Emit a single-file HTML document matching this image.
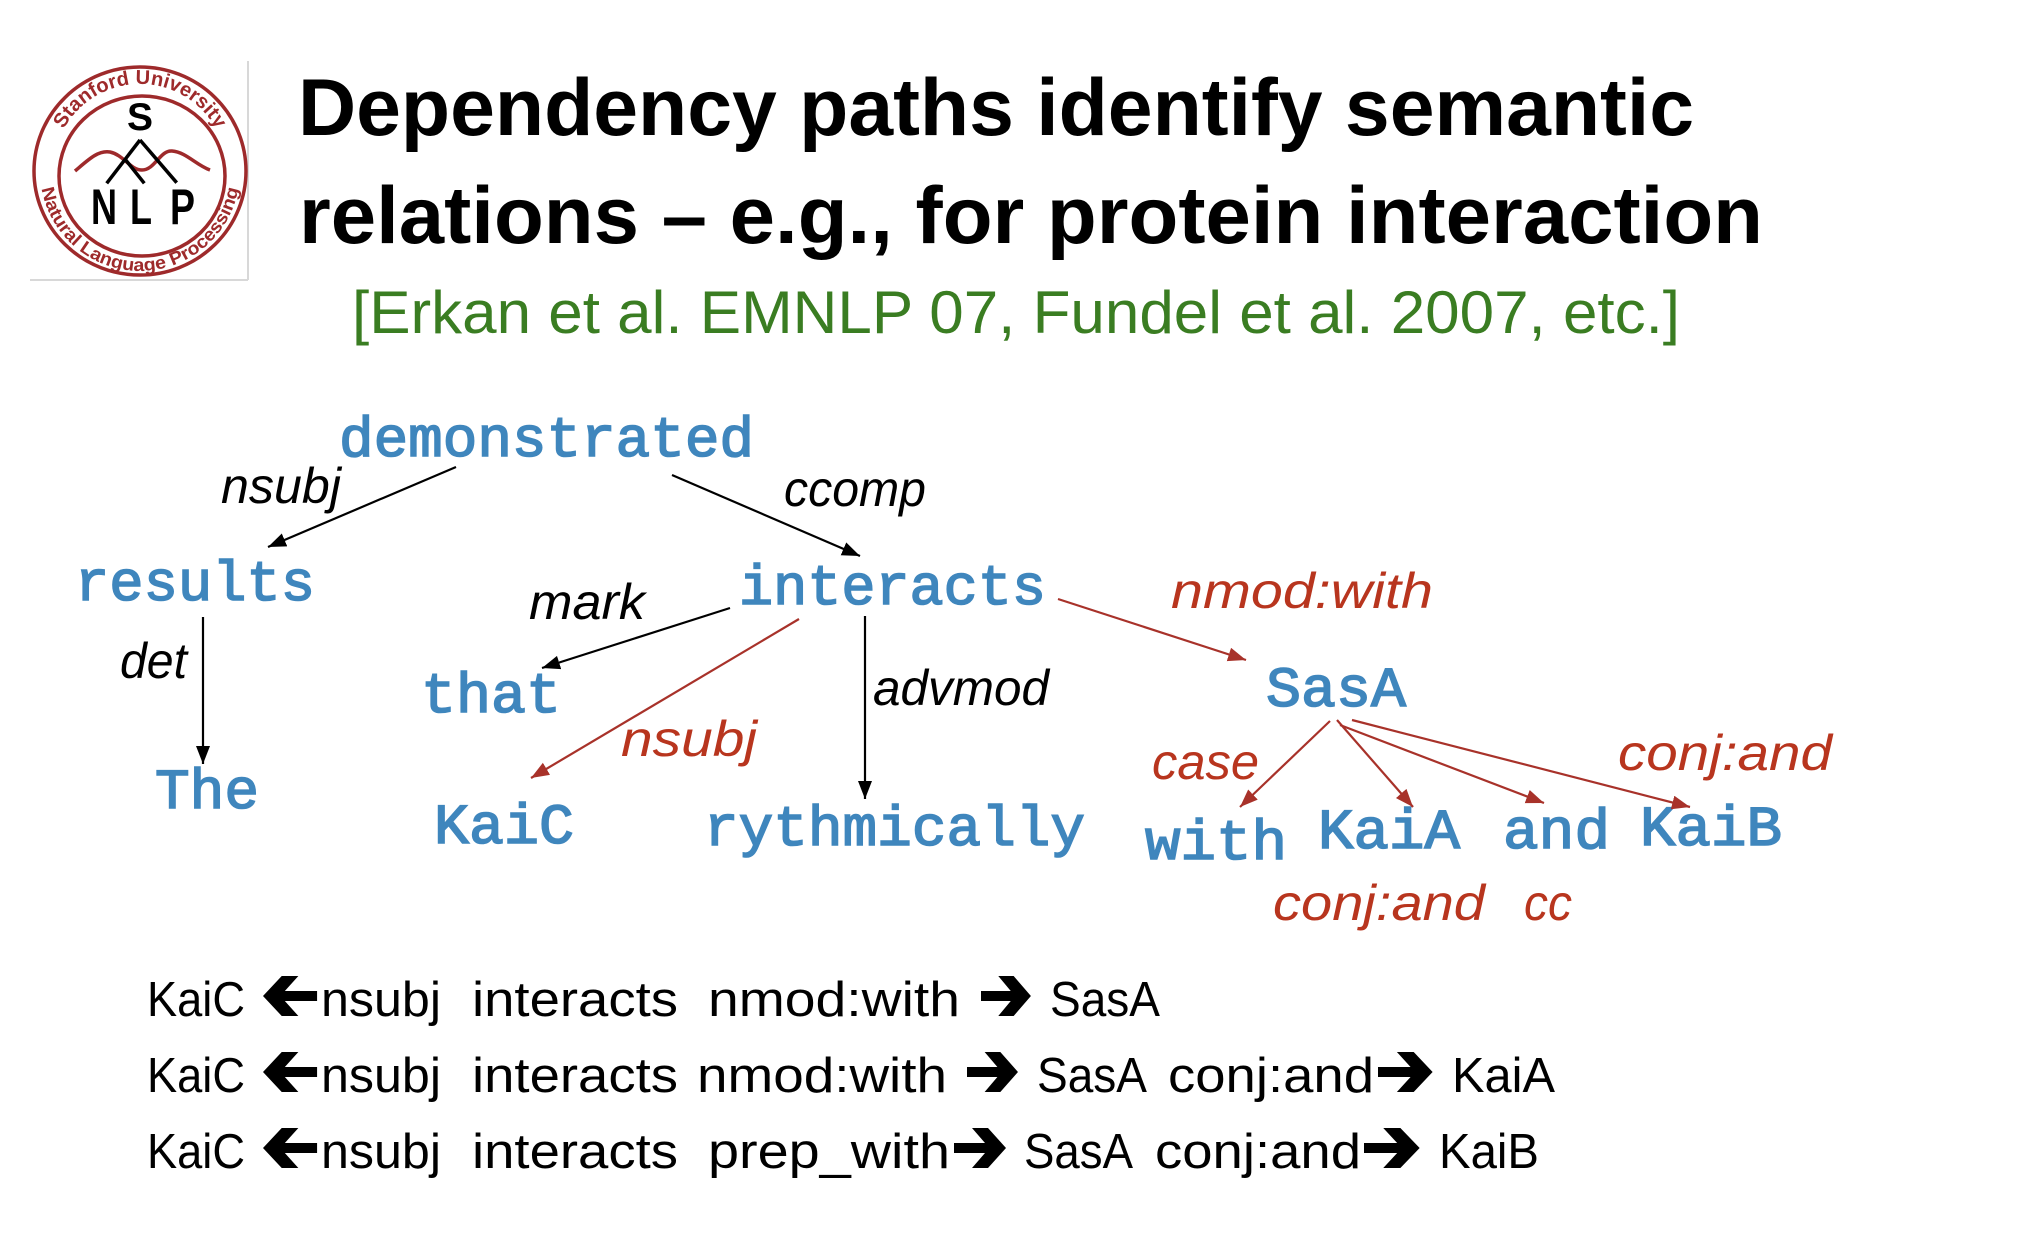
<!DOCTYPE html>
<html>
<head>
<meta charset="utf-8">
<style>
html,body{margin:0;padding:0;background:#fff;}
svg{display:block;}
.t{font-family:"Liberation Sans",sans-serif;}
.m{font-family:"Liberation Mono",monospace;font-weight:normal;fill:#3f86bd;stroke:#3f86bd;stroke-width:1.6px;font-size:57px;}
.l{font-family:"Liberation Sans",sans-serif;font-style:italic;font-size:50px;}
.b{font-family:"Liberation Sans",sans-serif;font-size:49px;fill:#000;}
</style>
</head>
<body>
<svg width="2036" height="1236" viewBox="0 0 2036 1236" xmlns="http://www.w3.org/2000/svg">
<defs>
  <marker id="ab" markerWidth="20" markerHeight="16" refX="18" refY="7" orient="auto" markerUnits="userSpaceOnUse">
    <path d="M0,0 L18,7 L0,14 z" fill="#000"/>
  </marker>
  <marker id="ar" markerWidth="20" markerHeight="16" refX="18" refY="7" orient="auto" markerUnits="userSpaceOnUse">
    <path d="M0,0 L18,7 L0,14 z" fill="#a8322a"/>
  </marker>
  <path id="topArc" d="M53,171 A87,87 0 0 1 227,171"/>
  <path id="botArc" d="M40,171 A100,100 0 0 0 240,171"/>
</defs>

<rect width="2036" height="1236" fill="#fff"/>

<!-- Logo -->
<rect x="30" y="61" width="218" height="218" fill="#fff"/>
<line x1="248" y1="61" x2="248" y2="280" stroke="#d8d8d8" stroke-width="2"/>
<line x1="30" y1="280" x2="248" y2="280" stroke="#d8d8d8" stroke-width="2"/>
<ellipse cx="140" cy="171" rx="106" ry="104" fill="none" stroke="#9e2a2b" stroke-width="3.5"/>
<ellipse cx="142" cy="176" rx="83" ry="80" fill="none" stroke="#9e2a2b" stroke-width="3.5"/>
<text class="t" font-size="20" font-weight="bold" fill="#9e2a2b"><textPath href="#topArc" startOffset="50%" text-anchor="middle" textLength="186" lengthAdjust="spacingAndGlyphs">Stanford University</textPath></text>
<text class="t" font-size="18" font-weight="bold" fill="#9e2a2b"><textPath href="#botArc" startOffset="50%" text-anchor="middle" textLength="278" lengthAdjust="spacingAndGlyphs">Natural Language Processing</textPath></text>
<text class="t" x="140" y="130" font-size="39" font-weight="bold" text-anchor="middle" fill="#000">S</text>
<path d="M75,171 C88,160 98,150 110,152 C124,155 130,170 142,170 C155,170 160,150 172,151 C186,152 196,165 210,170" fill="none" stroke="#9e2a2b" stroke-width="3.5"/>
<line x1="106.7" y1="183.3" x2="140" y2="140" stroke="#000" stroke-width="3.5"/>
<line x1="140" y1="140" x2="176.7" y2="182.7" stroke="#000" stroke-width="3.5"/>
<line x1="125" y1="159" x2="144.3" y2="183.3" stroke="#000" stroke-width="3.5"/>
<text class="t" x="91" y="224" font-size="50" font-weight="bold" fill="#000" textLength="26" lengthAdjust="spacingAndGlyphs">N</text>
<text class="t" x="130" y="224" font-size="50" font-weight="bold" fill="#000" textLength="22" lengthAdjust="spacingAndGlyphs">L</text>
<text class="t" x="170" y="224" font-size="50" font-weight="bold" fill="#000" textLength="25" lengthAdjust="spacingAndGlyphs">P</text>

<!-- Title -->
<text class="t" x="298" y="135" font-size="81" font-weight="bold" fill="#000" textLength="1396" lengthAdjust="spacingAndGlyphs">Dependency paths identify semantic</text>
<text class="t" x="299" y="243" font-size="81" font-weight="bold" fill="#000" textLength="1464" lengthAdjust="spacingAndGlyphs">relations – e.g., for protein interaction</text>
<text class="t" x="352" y="333" font-size="60" fill="#3a7d22" textLength="1328" lengthAdjust="spacingAndGlyphs">[Erkan et al. EMNLP 07, Fundel et al. 2007, etc.]</text>

<!-- Nodes -->
<text class="m" x="339" y="456" textLength="415" lengthAdjust="spacingAndGlyphs">demonstrated</text>
<text class="m" x="75" y="600" textLength="240" lengthAdjust="spacingAndGlyphs">results</text>
<text class="m" x="739" y="604" textLength="307" lengthAdjust="spacingAndGlyphs">interacts</text>
<text class="m" x="421" y="712" textLength="140" lengthAdjust="spacingAndGlyphs">that</text>
<text class="m" x="155" y="808" textLength="104" lengthAdjust="spacingAndGlyphs">The</text>
<text class="m" x="434" y="843" textLength="140" lengthAdjust="spacingAndGlyphs">KaiC</text>
<text class="m" x="704" y="845" textLength="381" lengthAdjust="spacingAndGlyphs">rythmically</text>
<text class="m" x="1266" y="706" textLength="140" lengthAdjust="spacingAndGlyphs">SasA</text>
<text class="m" x="1145" y="859" textLength="142" lengthAdjust="spacingAndGlyphs">with</text>
<text class="m" x="1318" y="848" textLength="142" lengthAdjust="spacingAndGlyphs">KaiA</text>
<text class="m" x="1503" y="848" textLength="107" lengthAdjust="spacingAndGlyphs">and</text>
<text class="m" x="1640" y="845" textLength="142" lengthAdjust="spacingAndGlyphs">KaiB</text>

<!-- Edges -->
<g stroke-width="2.2" fill="none">
  <line x1="456" y1="467" x2="268" y2="547" stroke="#000" marker-end="url(#ab)"/>
  <line x1="672" y1="475" x2="860" y2="556" stroke="#000" marker-end="url(#ab)"/>
  <line x1="203" y1="617" x2="203" y2="764" stroke="#000" marker-end="url(#ab)"/>
  <line x1="730" y1="608" x2="542" y2="668" stroke="#000" marker-end="url(#ab)"/>
  <line x1="865" y1="616" x2="865" y2="799" stroke="#000" marker-end="url(#ab)"/>
  <line x1="799" y1="619" x2="531" y2="778" stroke="#a8322a" marker-end="url(#ar)"/>
  <line x1="1058" y1="599" x2="1246" y2="660" stroke="#a8322a" marker-end="url(#ar)"/>
  <line x1="1330" y1="721" x2="1240" y2="807" stroke="#a8322a" marker-end="url(#ar)"/>
  <line x1="1337" y1="720" x2="1413" y2="807" stroke="#a8322a" marker-end="url(#ar)"/>
  <line x1="1340" y1="725" x2="1544" y2="803" stroke="#a8322a" marker-end="url(#ar)"/>
  <line x1="1352" y1="720" x2="1690" y2="807" stroke="#a8322a" marker-end="url(#ar)"/>
</g>

<!-- Edge labels -->
<text class="l" x="221" y="503" fill="#000" textLength="120" lengthAdjust="spacingAndGlyphs">nsubj</text>
<text class="l" x="784" y="506" fill="#000" textLength="142" lengthAdjust="spacingAndGlyphs">ccomp</text>
<text class="l" x="529" y="619" fill="#000" textLength="116" lengthAdjust="spacingAndGlyphs">mark</text>
<text class="l" x="120" y="678" fill="#000" textLength="67" lengthAdjust="spacingAndGlyphs">det</text>
<text class="l" x="873" y="705" fill="#000" textLength="176" lengthAdjust="spacingAndGlyphs">advmod</text>
<text class="l" x="621" y="756" fill="#b8351e" textLength="136" lengthAdjust="spacingAndGlyphs">nsubj</text>
<text class="l" x="1171" y="608" fill="#b8351e" textLength="262" lengthAdjust="spacingAndGlyphs">nmod:with</text>
<text class="l" x="1152" y="779" fill="#b8351e" textLength="107" lengthAdjust="spacingAndGlyphs">case</text>
<text class="l" x="1618" y="770" fill="#b8351e" textLength="214" lengthAdjust="spacingAndGlyphs">conj:and</text>
<text class="l" x="1273" y="920" fill="#b8351e" textLength="212" lengthAdjust="spacingAndGlyphs">conj:and</text>
<text class="l" x="1524" y="920" fill="#b8351e" textLength="48" lengthAdjust="spacingAndGlyphs">cc</text>

<!-- Bottom path lines -->
<!-- Line 1 -->
<text class="b" x="147" y="1016" textLength="98" lengthAdjust="spacingAndGlyphs">KaiC</text>
<polygon transform="translate(263,976) scale(1.04,1)" points="52,15 21,15 34,0 18,0 0,20 18,40 34,40 21,25 52,25" fill="#000"/>
<text class="b" x="321" y="1016" textLength="120" lengthAdjust="spacingAndGlyphs">nsubj</text>
<text class="b" x="472" y="1016" textLength="206" lengthAdjust="spacingAndGlyphs">interacts</text>
<text class="b" x="708" y="1016" textLength="252" lengthAdjust="spacingAndGlyphs">nmod:with</text>
<polygon transform="translate(981,976) scale(0.96,1)" points="0,15 31,15 18,0 34,0 52,20 34,40 18,40 31,25 0,25" fill="#000"/>
<text class="b" x="1050" y="1016" textLength="110" lengthAdjust="spacingAndGlyphs">SasA</text>

<!-- Line 2 -->
<text class="b" x="147" y="1092" textLength="98" lengthAdjust="spacingAndGlyphs">KaiC</text>
<polygon transform="translate(263,1052) scale(1.04,1)" points="52,15 21,15 34,0 18,0 0,20 18,40 34,40 21,25 52,25" fill="#000"/>
<text class="b" x="321" y="1092" textLength="120" lengthAdjust="spacingAndGlyphs">nsubj</text>
<text class="b" x="472" y="1092" textLength="206" lengthAdjust="spacingAndGlyphs">interacts</text>
<text class="b" x="697" y="1092" textLength="250" lengthAdjust="spacingAndGlyphs">nmod:with</text>
<polygon transform="translate(967,1052) scale(0.98,1)" points="0,15 31,15 18,0 34,0 52,20 34,40 18,40 31,25 0,25" fill="#000"/>
<text class="b" x="1037" y="1092" textLength="110" lengthAdjust="spacingAndGlyphs">SasA</text>
<text class="b" x="1168" y="1092" textLength="206" lengthAdjust="spacingAndGlyphs">conj:and</text>
<polygon transform="translate(1378,1052) scale(1.05,1)" points="0,15 31,15 18,0 34,0 52,20 34,40 18,40 31,25 0,25" fill="#000"/>
<text class="b" x="1452" y="1092" textLength="103" lengthAdjust="spacingAndGlyphs">KaiA</text>

<!-- Line 3 -->
<text class="b" x="147" y="1168" textLength="98" lengthAdjust="spacingAndGlyphs">KaiC</text>
<polygon transform="translate(263,1128) scale(1.04,1)" points="52,15 21,15 34,0 18,0 0,20 18,40 34,40 21,25 52,25" fill="#000"/>
<text class="b" x="321" y="1168" textLength="120" lengthAdjust="spacingAndGlyphs">nsubj</text>
<text class="b" x="472" y="1168" textLength="206" lengthAdjust="spacingAndGlyphs">interacts</text>
<text class="b" x="708" y="1168" textLength="242" lengthAdjust="spacingAndGlyphs">prep_with</text>
<polygon transform="translate(954,1128)" points="0,15 31,15 18,0 34,0 52,20 34,40 18,40 31,25 0,25" fill="#000"/>
<text class="b" x="1024" y="1168" textLength="109" lengthAdjust="spacingAndGlyphs">SasA</text>
<text class="b" x="1155" y="1168" textLength="206" lengthAdjust="spacingAndGlyphs">conj:and</text>
<polygon transform="translate(1364,1128) scale(1.07,1)" points="0,15 31,15 18,0 34,0 52,20 34,40 18,40 31,25 0,25" fill="#000"/>
<text class="b" x="1439" y="1168" textLength="100" lengthAdjust="spacingAndGlyphs">KaiB</text>
</svg>
</body>
</html>
